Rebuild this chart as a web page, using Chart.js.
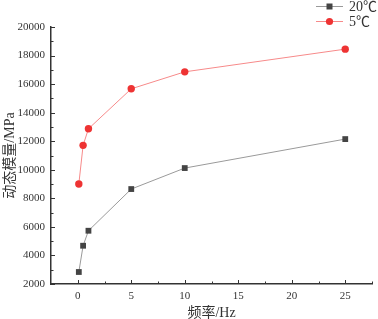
<!DOCTYPE html>
<html><head><meta charset="utf-8">
<script src="https://cdn.jsdelivr.net/npm/chart.js@4"></script>
<style>html,body{margin:0;padding:0;background:#fff}#wrap{width:378px;height:319px}</style>
</head><body><div id="wrap"><canvas id="c" width="378" height="319"></canvas></div>
<script>
const frequencies = [0.1, 0.5, 1, 5, 10, 25];
const modulus20C = [2840, 4680, 5730, 8650, 10120, 12150];
const modulus5C = [9000, 11710, 12870, 15670, 16860, 18450];
const seriesNames = ['20℃', '5℃'];
const xTickValues = [0, 5, 10, 15, 20, 25];
const yTickValues = [2000, 4000, 6000, 8000, 10000, 12000, 14000, 16000, 18000, 20000];
const xTitle = '频率/Hz';
const yTitle = '动态模量/MPa';

const serif = "'Liberation Serif','Noto Sans CJK SC',serif";
const pts = a => frequencies.map((f,i)=>({x:f,y:a[i]}));

const tickPlugin = {
  id:'tickPlugin',
  afterDraw(chart){
    const ctx = chart.ctx, x = chart.scales.x, y = chart.scales.y;
    const ca = chart.chartArea;
    ctx.save();
    ctx.strokeStyle = '#333'; ctx.lineWidth = 1;
    for(let v=0; v<=27.5; v+=2.5){
      const px = Math.round(x.getPixelForValue(v))+0.5;
      const len = (v%5===0)?4:2.5;
      ctx.beginPath(); ctx.moveTo(px, ca.bottom); ctx.lineTo(px, ca.bottom-len); ctx.stroke();
    }
    for(let v=2000; v<=20000; v+=1000){
      const py = Math.round(y.getPixelForValue(v))+0.5;
      const len = (v%2000===0)?4:2.5;
      ctx.beginPath(); ctx.moveTo(ca.left, py); ctx.lineTo(ca.left+len, py); ctx.stroke();
    }
    const items = [
      {name:seriesNames[0], line:'#9a9a9a', fill:'#444', style:'rect', y:6},
      {name:seriesNames[1], line:'#f78a8a', fill:'#ee3333', style:'circle', y:21}
    ];
    items.forEach(it=>{
      ctx.strokeStyle = it.line; ctx.lineWidth = 1;
      ctx.beginPath(); ctx.moveTo(316, it.y+0.5); ctx.lineTo(343, it.y+0.5); ctx.stroke();
      ctx.fillStyle = it.fill;
      if(it.style==='rect'){ ctx.fillRect(326.5, it.y-2.5, 6, 6); }
      else { ctx.beginPath(); ctx.arc(329.5, it.y+0.5, 3.6, 0, Math.PI*2); ctx.fill(); }
      ctx.fillStyle = '#333'; ctx.font = "14px " + serif;
      ctx.textBaseline = 'middle'; ctx.textAlign='left';
      ctx.fillText(it.name, 349, it.y+1);
    });
    ctx.restore();
  }
};

new Chart(document.getElementById('c'), {
  type:'line',
  data:{datasets:[
    {label:seriesNames[0], data:pts(modulus20C), borderColor:'#9a9a9a', borderWidth:1,
     pointStyle:'rect', pointRadius:4.1, pointBackgroundColor:'#444', pointBorderColor:'#444', pointBorderWidth:0, tension:0},
    {label:seriesNames[1], data:pts(modulus5C), borderColor:'#f78a8a', borderWidth:1,
     pointStyle:'circle', pointRadius:3.7, pointBackgroundColor:'#ee3333', pointBorderColor:'#ee3333', pointBorderWidth:0, tension:0}
  ]},
  options:{
    responsive:false, animation:false, devicePixelRatio:1,
    layout:{padding:{top:27, right:6, left:0, bottom:0}},
    plugins:{legend:{display:false}, tooltip:{enabled:false}},
    scales:{
      x:{type:'linear', min:-2.5, max:27.5,
        afterBuildTicks(s){ s.ticks = xTickValues.map(v=>({value:v})); },
        afterFit(s){ s.height = 35; },
        grid:{display:true, drawOnChartArea:false, drawTicks:false},
        border:{display:true, color:'#333', width:1.5},
        ticks:{padding:6, color:'#333', font:{family:serif, size:11}, callback:v=>String(v)},
        title:{display:true, text:xTitle, color:'#333', font:{family:serif, size:14, lineHeight:0.8}, padding:{top:4,bottom:0}}
      },
      y:{min:2000, max:20000,
        afterBuildTicks(s){ s.ticks = yTickValues.map(v=>({value:v})); },
        afterFit(s){ s.width = 51; },
        grid:{display:true, drawOnChartArea:false, drawTicks:false},
        border:{display:true, color:'#333', width:1.5},
        ticks:{padding:6, color:'#333', font:{family:serif, size:11}, callback:v=>String(v)},
        title:{display:true, text:yTitle, color:'#333', font:{family:serif, size:14}, padding:{top:2,bottom:0}}
      }
    }
  },
  plugins:[tickPlugin]
});
</script></body></html>
